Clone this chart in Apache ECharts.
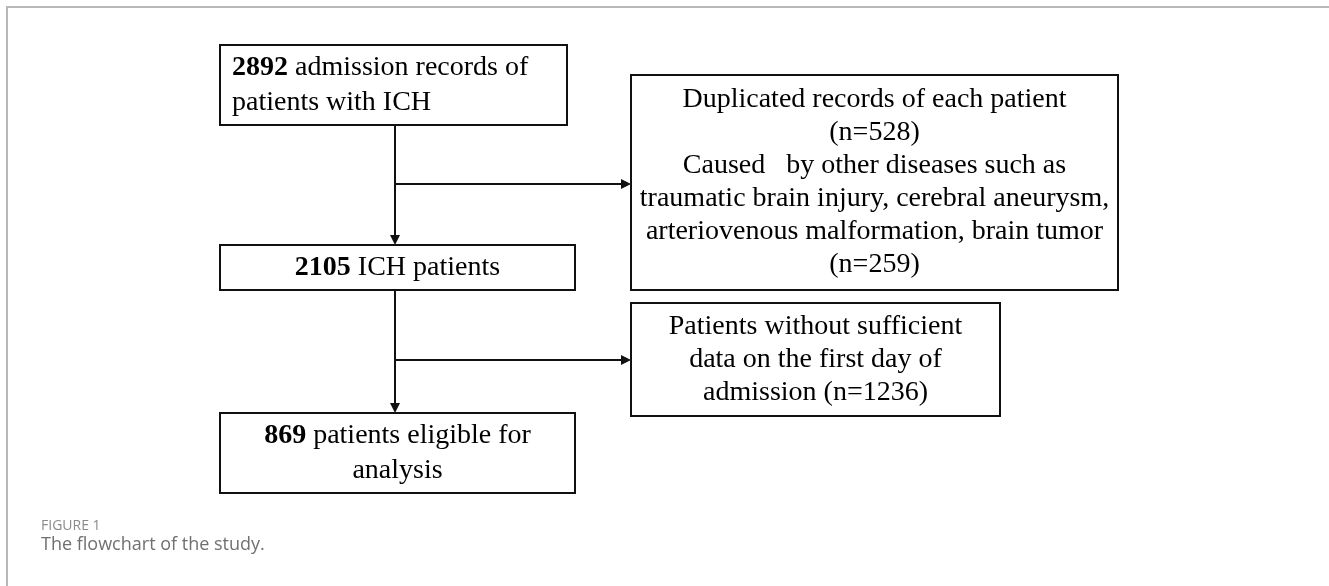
<!DOCTYPE html>
<html>
<head>
<meta charset="utf-8">
<script src="https://cdn.jsdelivr.net/npm/echarts@6/dist/echarts.min.js"></script>
<style>
html,body{margin:0;padding:0;background:#fff;}
#chart{width:1329px;height:586px;}
</style>
</head>
<body>
<div id="chart"></div>
<script>
// ---- data ----
const stageCounts = [2892, 2105, 869];
const stageNames = ['admission records of\npatients with ICH', 'ICH patients', 'patients eligible for\nanalysis'];
const exclusionCounts = [528, 259, 1236];
const exclusionTexts = [
  'Duplicated records of each patient',
  'Caused   by other diseases such as\ntraumatic brain injury, cerebral aneurysm,\narteriovenous malformation, brain tumor',
  'Patients without sufficient\ndata on the first day of\nadmission'
];
const captionLabel = 'FIGURE 1';
const captionText = 'The flowchart of the study.';

// ---- layout (canvas units) ----
const W = 1329, H = 586;
const boxLayout = {
  s0: [220, 45, 567, 125],
  s1: [220, 245, 575, 290],
  s2: [220, 413, 575, 493],
  e0: [631, 75, 1118, 290],
  e1: [631, 303, 1000, 416]
};
const trunkX = 395;
const branchY = [184, 360];
const ARROW = [9, 10];
const tipInset = ARROW[1] / 2;

const boxes = [
  { id: 's0', text: '{b|' + stageCounts[0] + '} ' + stageNames[0], align: 'left', lh: 35 },
  { id: 's1', text: '{b|' + stageCounts[1] + '} ' + stageNames[1], align: 'center', lh: 35 },
  { id: 's2', text: '{b|' + stageCounts[2] + '} ' + stageNames[2], align: 'center', lh: 35 },
  { id: 'e0', text: exclusionTexts[0] + '\n(n=' + exclusionCounts[0] + ')\n' + exclusionTexts[1] + '\n(n=' + exclusionCounts[1] + ')', align: 'center', lh: 33 },
  { id: 'e1', text: exclusionTexts[2] + ' (n=' + exclusionCounts[2] + ')', align: 'center', lh: 33 }
];

const connectors = [
  [[trunkX, boxLayout.s0[3]], [trunkX, boxLayout.s1[1] - tipInset]],
  [[trunkX, branchY[0]], [boxLayout.e0[0] - tipInset, branchY[0]]],
  [[trunkX, boxLayout.s1[3]], [trunkX, boxLayout.s2[1] - tipInset]],
  [[trunkX, branchY[1]], [boxLayout.e1[0] - tipInset, branchY[1]]]
];

const FONT = '"Liberation Serif", "Times New Roman", serif';

const chart = echarts.init(document.getElementById('chart'), null, { renderer: 'canvas' });
chart.setOption({
  animation: false,
  backgroundColor: '#ffffff',
  grid: { left: 0, right: 0, top: 0, bottom: 0 },
  xAxis: { type: 'value', min: 0, max: W, show: false },
  yAxis: { type: 'value', min: 0, max: H, inverse: true, show: false },
  graphic: [
    { type: 'polyline', shape: { points: [[7, H + 5], [7, 7], [W + 5, 7]] }, style: { stroke: '#b8b8b8', lineWidth: 2, fill: null } },
    { type: 'text', left: 41, top: 519, style: { text: captionLabel, font: '14px "Open Sans", sans-serif', fill: '#8a8a8a' } },
    { type: 'text', left: 41, top: 536, style: { text: captionText, font: '18px "Open Sans", sans-serif', fill: '#707070' } }
  ],
  series: [
    {
      type: 'custom',
      coordinateSystem: 'cartesian2d',
      data: boxes.map((b, i) => [i]),
      renderItem: function (params, api) {
        const b = boxes[api.value(0)];
        const r = boxLayout[b.id];
        const p0 = api.coord([r[0], r[1]]);
        const p1 = api.coord([r[2], r[3]]);
        const cx = b.align === 'left' ? p0[0] + 12 : (p0[0] + p1[0]) / 2;
        const cy = (p0[1] + p1[1]) / 2;
        return {
          type: 'group',
          children: [
            { type: 'rect', shape: { x: p0[0], y: p0[1], width: p1[0] - p0[0], height: p1[1] - p0[1] },
              style: { fill: '#fff', stroke: '#111', lineWidth: 2 } },
            { type: 'text', x: cx, y: cy,
              style: { text: b.text, font: '28px ' + FONT, fill: '#000', align: b.align, verticalAlign: 'middle', lineHeight: b.lh,
                rich: { b: { font: 'bold 28px ' + FONT, fill: '#000', lineHeight: b.lh } } } }
          ]
        };
      },
      z: 2
    },
    {
      type: 'lines',
      coordinateSystem: 'cartesian2d',
      polyline: false,
      symbol: ['none', 'triangle'],
      symbolSize: ARROW,
      lineStyle: { color: '#111', width: 2, opacity: 1 },
      itemStyle: { color: '#111' },
      data: connectors.map(c => ({ coords: c })),
      z: 3
    }
  ]
});
</script>
</body>
</html>
